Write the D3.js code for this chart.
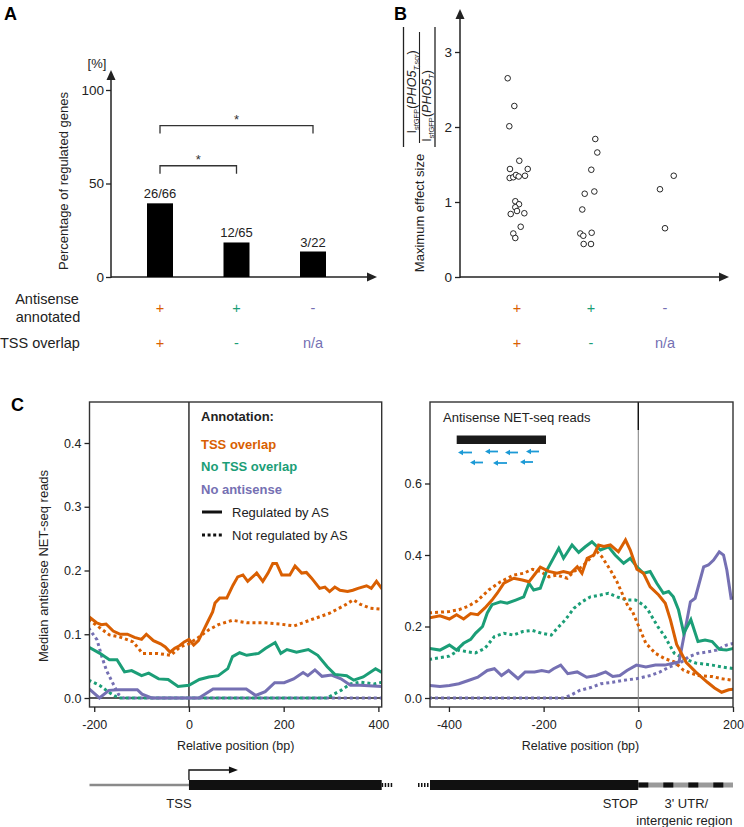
<!DOCTYPE html>
<html><head><meta charset="utf-8">
<script src="https://cdn.jsdelivr.net/npm/d3@7"></script>
<style>body{margin:0;background:#fff}svg{font-family:"Liberation Sans",Arial,sans-serif}</style>
</head><body><svg id="c" width="744" height="827"></svg>
<script>
// ---------------- DATA ----------------
const categories = ["TSS overlap", "No TSS overlap", "No antisense"];
const regulatedCounts = [26, 12, 3];
const totalCounts = [66, 65, 22];
const rowAntisense = ["+", "+", "-"];
const rowTSS = ["+", "-", "n/a"];
const comparisons = [[0, 1, 59.5], [0, 2, 81]]; // [from, to, bracket level %]
const yTicksA = [0, 50, 100];

const effectTSS = [2.65, 2.28, 2.01, 1.55, 1.44, 1.44, 1.32, 1.33, 1.36, 1.34, 1.35, 1.01, 0.97, 0.93, 0.88, 0.84, 0.85, 0.67, 0.58, 0.52];
const jitterTSS = [-0.126, -0.036, -0.104, 0.031, -0.095, 0.145, -0.099, -0.05, -0.014, 0.023, 0.108, -0.023, 0.027, -0.023, 0, -0.085, 0.099, 0.05, -0.05, -0.023];
const effectNoTSS = [1.84, 1.66, 1.43, 1.14, 1.11, 0.90, 0.58, 0.55, 0.59, 0.44, 0.44];
const jitterNoTSS = [0.058, 0.085, 0.004, 0.045, -0.085, -0.118, -0.145, -0.104, 0.009, -0.099, 0];
const effectNoAS = [1.17, 1.35, 0.65];
const jitterNoAS = [-0.068, 0.118, 0];
const yTicksB = [0, 1, 2, 3];

// Panel C, left (around TSS): [position bp, median reads]
const leftTssReg = [[-212,0.128],[-195,0.118],[-185,0.115],[-175,0.116],[-160,0.105],[-145,0.10],[-130,0.10],[-115,0.095],[-100,0.092],[-90,0.10],[-75,0.09],[-60,0.085],[-50,0.08],[-40,0.072],[-30,0.078],[-20,0.082],[-10,0.088],[0,0.092],[10,0.083],[20,0.09],[30,0.105],[40,0.12],[50,0.135],[55,0.149],[65,0.157],[80,0.157],[93,0.177],[103,0.19],[114,0.193],[124,0.183],[143,0.196],[156,0.183],[167,0.196],[177,0.211],[185,0.211],[196,0.193],[213,0.193],[224,0.207],[238,0.196],[248,0.197],[259,0.188],[276,0.172],[287,0.174],[297,0.167],[308,0.174],[319,0.169],[335,0.167],[346,0.169],[357,0.172],[375,0.176],[385,0.172],[396,0.183],[410,0.169]];
const leftTssNot = [[-212,0.123],[-188,0.11],[-168,0.099],[-147,0.096],[-118,0.088],[-98,0.07],[-68,0.07],[-38,0.067],[-19,0.08],[0,0.085],[22,0.096],[42,0.107],[62,0.115],[92,0.122],[122,0.118],[162,0.118],[192,0.116],[222,0.113],[255,0.122],[297,0.133],[330,0.146],[347,0.154],[362,0.147],[382,0.141],[410,0.139]];
const leftNoTssReg = [[-212,0.080],[-188,0.07],[-168,0.06],[-152,0.06],[-136,0.041],[-121,0.043],[-100,0.035],[-85,0.039],[-64,0.03],[-44,0.029],[-23,0.018],[0,0.02],[22,0.029],[42,0.033],[62,0.035],[82,0.046],[92,0.065],[107,0.071],[122,0.067],[147,0.07],[162,0.078],[182,0.087],[194,0.07],[207,0.076],[227,0.072],[252,0.076],[272,0.067],[292,0.049],[308,0.037],[333,0.035],[348,0.028],[368,0.033],[394,0.046],[410,0.039]];
const leftNoTssNot = [[-212,0.028],[-189,0.02],[-169,0.009],[-149,0],[291,0],[301,0.004],[321,0.012],[341,0.022],[361,0.025],[391,0.022],[410,0.025]];
const leftNoAsReg = [[-212,0.015],[-189,0],[-169,0.012],[-149,0.013],[-109,0.013],[-99,0.006],[-79,0],[21,0],[51,0.014],[121,0.014],[141,0.004],[161,0.01],[181,0.024],[201,0.024],[221,0.03],[241,0.04],[251,0.035],[266,0.044],[281,0.034],[301,0.036],[321,0.03],[341,0.02],[361,0.02],[410,0.018]];
const leftNoAsNot = [[-212,0.11],[-194,0.091],[-184,0.065],[-174,0.043],[-164,0.028],[-149,0.006],[-139,0],[410,0]];

// Panel C, right (around STOP)
const rightTssReg = [[-442,0.224],[-419,0.23],[-399,0.221],[-384,0.233],[-369,0.221],[-354,0.236],[-339,0.233],[-324,0.252],[-309,0.274],[-298,0.293],[-284,0.321],[-263,0.335],[-245,0.33],[-231,0.325],[-217,0.349],[-207,0.366],[-189,0.354],[-172,0.349],[-158,0.354],[-143,0.349],[-129,0.367],[-119,0.349],[-108,0.391],[-94,0.4],[-84,0.428],[-73,0.424],[-59,0.428],[-42,0.409],[-27,0.442],[-17,0.414],[-3,0.36],[11,0.349],[25,0.311],[43,0.288],[57,0.265],[68,0.218],[81,0.15],[101,0.1],[121,0.073],[146,0.044],[161,0.028],[176,0.016],[191,0.023],[202,0.025]];
const rightTssNot = [[-442,0.238],[-419,0.24],[-399,0.242],[-379,0.247],[-359,0.257],[-340,0.272],[-316,0.302],[-291,0.325],[-263,0.344],[-242,0.349],[-224,0.36],[-207,0.354],[-189,0.339],[-172,0.344],[-150,0.335],[-136,0.354],[-119,0.367],[-105,0.386],[-87,0.409],[-77,0.395],[-59,0.358],[-45,0.325],[-31,0.283],[-20,0.251],[-14,0.247],[1,0.2],[16,0.153],[36,0.125],[56,0.11],[76,0.101],[96,0.077],[126,0.063],[156,0.06],[176,0.054],[202,0.049]];
const rightNoTssReg = [[-442,0.139],[-419,0.134],[-399,0.148],[-384,0.134],[-369,0.153],[-354,0.164],[-344,0.181],[-329,0.2],[-319,0.238],[-309,0.261],[-291,0.269],[-277,0.265],[-259,0.274],[-242,0.283],[-231,0.321],[-221,0.302],[-207,0.307],[-193,0.358],[-168,0.419],[-158,0.391],[-140,0.428],[-126,0.407],[-112,0.423],[-98,0.437],[-80,0.414],[-63,0.423],[-49,0.4],[-31,0.377],[-17,0.391],[-3,0.367],[11,0.349],[25,0.354],[39,0.321],[53,0.293],[64,0.298],[74,0.283],[85,0.246],[96,0.181],[111,0.219],[126,0.158],[141,0.162],[156,0.158],[171,0.136],[186,0.134],[202,0.139]];
const rightNoTssNot = [[-442,0.108],[-419,0.113],[-399,0.117],[-379,0.134],[-359,0.129],[-344,0.126],[-324,0.139],[-304,0.172],[-284,0.181],[-264,0.176],[-244,0.186],[-224,0.189],[-204,0.181],[-184,0.176],[-174,0.191],[-154,0.219],[-136,0.251],[-119,0.269],[-101,0.283],[-80,0.288],[-63,0.293],[-45,0.283],[-24,0.274],[-6,0.274],[11,0.26],[21,0.245],[41,0.2],[56,0.172],[76,0.125],[96,0.11],[121,0.098],[156,0.092],[176,0.087],[202,0.082]];
const rightNoAsReg = [[-442,0.035],[-419,0.032],[-399,0.035],[-379,0.04],[-359,0.049],[-339,0.058],[-319,0.077],[-304,0.082],[-289,0.063],[-274,0.077],[-254,0.054],[-239,0.073],[-219,0.073],[-204,0.077],[-189,0.073],[-179,0.082],[-164,0.092],[-149,0.068],[-129,0.073],[-109,0.058],[-89,0.063],[-69,0.073],[-54,0.06],[-39,0.063],[-24,0.077],[-4,0.092],[16,0.087],[36,0.092],[56,0.092],[76,0.098],[86,0.101],[96,0.17],[110,0.269],[120,0.279],[138,0.367],[148,0.372],[159,0.386],[171,0.409],[180,0.4],[187,0.358],[196,0.279],[202,0.28]];
const rightNoAsNot = [[-442,0],[-159,0],[-144,0.007],[-124,0.021],[-99,0.03],[-79,0.04],[-54,0.044],[-34,0.049],[-4,0.054],[26,0.063],[46,0.073],[66,0.087],[86,0.096],[106,0.115],[126,0.125],[146,0.129],[166,0.134],[186,0.148],[202,0.153]];

const xTicksLeft = [-200, 0, 200, 400];
const yTicksLeft = [0, 0.1, 0.2, 0.3, 0.4];
const xTicksRight = [-400, -200, 0, 200];
const yTicksRight = [0, 0.2, 0.4, 0.6];

// ---------------- DRAW ----------------
const col = {"TSS overlap": "#d95f02", "No TSS overlap": "#1b9e77", "No antisense": "#7570b3"};
const svg = d3.select("#c");

function arrowUp(g, x, y) { g.append("path").attr("d", `M${x},${y} L${x-4.5},${y+10} L${x+4.5},${y+10} Z`).attr("fill", "#222"); }
function arrowRight(g, x, y) { g.append("path").attr("d", `M${x},${y} L${x-10},${y-4.5} L${x-10},${y+4.5} Z`).attr("fill", "#222"); }

svg.append("text").attr("x", 4).attr("y", 20).attr("font-size", 18).attr("font-weight", "bold").text("A");
svg.append("text").attr("x", 394).attr("y", 20).attr("font-size", 18).attr("font-weight", "bold").text("B");
svg.append("text").attr("x", 11).attr("y", 411).attr("font-size", 18).attr("font-weight", "bold").text("C");

// ---- Panel A ----
const A = svg.append("g");
const xA = d3.scalePoint().domain(categories).range([160, 313]);
const yA = d3.scaleLinear().domain([0, 100]).range([277, 90]);
const barW = 26;
A.append("line").attr("x1", 111).attr("x2", 111).attr("y1", 278).attr("y2", 76).attr("stroke", "#222").attr("stroke-width", 1.5);
arrowUp(A, 111, 70);
A.append("line").attr("x1", 111).attr("x2", 370).attr("y1", 277).attr("y2", 277).attr("stroke", "#222").attr("stroke-width", 1.5);
arrowRight(A, 377, 277);
const axA = A.append("g").attr("transform", "translate(111,0)").call(d3.axisLeft(yA).tickValues(yTicksA).tickFormat(d3.format("d")).tickSize(5).tickPadding(2));
axA.select(".domain").remove();
axA.selectAll("text").attr("font-size", 13.5).attr("font-family", "Liberation Sans, Arial, sans-serif").attr("fill", "#222");
axA.selectAll("line").attr("stroke", "#222").attr("stroke-width", 1.3);
A.append("text").attr("x", 97).attr("y", 68).attr("text-anchor", "middle").attr("font-size", 13).attr("fill", "#222").text("[%]");
A.append("text").attr("transform", "translate(68,181) rotate(-90)").attr("text-anchor", "middle").attr("font-size", 13).attr("fill", "#222").text("Percentage of regulated genes");
const pct = regulatedCounts.map((d, i) => 100 * d / totalCounts[i]);
A.selectAll(".bar").data(categories).join("rect")
  .attr("x", d => xA(d) - barW / 2).attr("width", barW)
  .attr("y", (d, i) => yA(pct[i])).attr("height", (d, i) => yA(0) - yA(pct[i])).attr("fill", "#000");
A.selectAll(".blab").data(categories).join("text")
  .attr("x", d => xA(d)).attr("y", (d, i) => yA(pct[i]) - 5).attr("text-anchor", "middle").attr("font-size", 13).attr("fill", "#222")
  .text((d, i) => `${regulatedCounts[i]}/${totalCounts[i]}`);
comparisons.forEach(([a, b, lvl]) => {
  const x1 = xA(categories[a]), x2 = xA(categories[b]), y = yA(lvl);
  A.append("path").attr("d", `M${x1},${y + 8}V${y}H${x2}V${y + 8}`).attr("fill", "none").attr("stroke", "#333").attr("stroke-width", 1.3);
  A.append("text").attr("x", (x1 + x2) / 2).attr("y", y - 2).attr("text-anchor", "middle").attr("font-size", 13).attr("fill", "#333").text("*");
});
svg.append("text").attr("x", 47).attr("y", 304).attr("text-anchor", "middle").attr("font-size", 14.5).attr("fill", "#222").text("Antisense");
svg.append("text").attr("x", 48).attr("y", 322).attr("text-anchor", "middle").attr("font-size", 14.5).attr("fill", "#222").text("annotated");
svg.append("text").attr("x", 0).attr("y", 348).attr("font-size", 14.5).attr("fill", "#222").text("TSS overlap");

// ---- Panel B ----
const B = svg.append("g");
const xB = d3.scaleLinear().domain([0, 2]).range([517, 665]);
const yB = d3.scaleLinear().domain([0, 3]).range([277, 52]);
B.append("line").attr("x1", 460).attr("x2", 460).attr("y1", 278).attr("y2", 16).attr("stroke", "#222").attr("stroke-width", 1.5);
arrowUp(B, 460, 9);
B.append("line").attr("x1", 460).attr("x2", 722).attr("y1", 277).attr("y2", 277).attr("stroke", "#222").attr("stroke-width", 1.5);
arrowRight(B, 729, 277);
const axB = B.append("g").attr("transform", "translate(460,0)").call(d3.axisLeft(yB).tickValues(yTicksB).tickFormat(d3.format("d")).tickSize(5).tickPadding(3));
axB.select(".domain").remove();
axB.selectAll("text").attr("font-size", 13.5).attr("font-family", "Liberation Sans, Arial, sans-serif").attr("fill", "#222");
axB.selectAll("line").attr("stroke", "#222").attr("stroke-width", 1.3);
const groups = [[effectTSS, jitterTSS], [effectNoTSS, jitterNoTSS], [effectNoAS, jitterNoAS]];
groups.forEach(([vals, jit], gi) => {
  B.selectAll(".p" + gi).data(vals).join("circle")
    .attr("cx", (d, i) => xB(gi + jit[i])).attr("cy", d => yB(d)).attr("r", 2.8)
    .attr("fill", "#fff").attr("stroke", "#111").attr("stroke-width", 0.9);
});
B.append("text").attr("transform", "translate(424,213) rotate(-90)").attr("text-anchor", "middle").attr("font-size", 13).attr("fill", "#222").text("Maximum effect size");
[403.5, 435].forEach(x => B.append("line").attr("x1", x).attr("x2", x).attr("y1", 27).attr("y2", 147).attr("stroke", "#222").attr("stroke-width", 1.3));
B.append("line").attr("x1", 419.5).attr("x2", 419.5).attr("y1", 32).attr("y2", 143).attr("stroke", "#222").attr("stroke-width", 1.1);
function fracText(x, y, parts) {
  const t = B.append("text").attr("transform", `translate(${x},${y}) rotate(-90)`).attr("text-anchor", "middle").attr("font-size", 12.5).attr("fill", "#222");
  parts.forEach(p => {
    const s = t.append("tspan").text(p.t);
    if (p.sub) s.attr("font-size", 7.5).attr("dy", p.dy);
    else if (p.dy) s.attr("dy", p.dy);
    if (p.it) s.attr("font-style", "italic");
  });
}
fracText(416, 92, [{t: "I"}, {t: "sfGFP", sub: true, dy: 3}, {t: "(", dy: -3}, {t: "PHO5", it: true}, {t: "T,scr", sub: true, dy: 3, it: true}, {t: ")", dy: -3}]);
fracText(430.5, 106, [{t: "I"}, {t: "sfGFP", sub: true, dy: 3}, {t: "(", dy: -3}, {t: "PHO5", it: true}, {t: "T", sub: true, dy: 3, it: true}, {t: ")", dy: -3}]);

[xA, d => xB(categories.indexOf(d))].forEach(sc => {
  categories.forEach((c, i) => {
    svg.append("text").attr("x", sc(c)).attr("y", 313).attr("text-anchor", "middle").attr("font-size", 14.5).attr("fill", col[c]).text(rowAntisense[i]);
    svg.append("text").attr("x", sc(c)).attr("y", 348).attr("text-anchor", "middle").attr("font-size", 14.5).attr("fill", col[c]).text(rowTSS[i]);
  });
});

// ---- Panel C ----
function buildPanel(cfg) {
  const g = svg.append("g");
  const x = d3.scaleLinear().domain(cfg.xDom).range([cfg.left, cfg.right]);
  const y = d3.scaleLinear().domain(cfg.yDom).range(cfg.yRange);
  g.append("clipPath").attr("id", cfg.id).append("rect").attr("x", cfg.left).attr("y", cfg.top).attr("width", cfg.right - cfg.left).attr("height", cfg.bottom - cfg.top);
  g.append("line").attr("x1", cfg.left).attr("x2", cfg.right).attr("y1", y(0)).attr("y2", y(0)).attr("stroke", "#222").attr("stroke-width", 1.3);
  if (cfg.grayV) {
    g.append("line").attr("x1", x(0)).attr("x2", x(0)).attr("y1", cfg.top).attr("y2", cfg.bottom).attr("stroke", "#888").attr("stroke-width", 1.1);
    g.append("line").attr("x1", x(0)).attr("x2", x(0)).attr("y1", cfg.top).attr("y2", cfg.top + 28).attr("stroke", "#111").attr("stroke-width", 1.4);
  } else {
    g.append("line").attr("x1", x(0)).attr("x2", x(0)).attr("y1", cfg.top).attr("y2", cfg.bottom).attr("stroke", "#111").attr("stroke-width", 1.3);
  }
  const line = d3.line().x(d => x(d[0])).y(d => y(d[1]));
  const lg = g.append("g").attr("clip-path", `url(#${cfg.id})`);
  cfg.series.forEach(s => {
    lg.append("path").attr("d", line(s.data)).attr("fill", "none").attr("stroke", col[s.cat])
      .attr("stroke-width", 3).attr("stroke-linejoin", "miter")
      .attr("stroke-dasharray", s.dashed ? "3,3" : null);
  });
  g.append("rect").attr("x", cfg.left).attr("y", cfg.top).attr("width", cfg.right - cfg.left).attr("height", cfg.bottom - cfg.top)
    .attr("fill", "none").attr("stroke", "#333").attr("stroke-width", 1.4);
  const ax = g.append("g").attr("transform", `translate(${cfg.left},0)`).call(d3.axisLeft(y).tickValues(cfg.yTicks).tickFormat(d3.format(".1f")).tickSize(5).tickPadding(3));
  const bx = g.append("g").attr("transform", `translate(0,${cfg.bottom})`).call(d3.axisBottom(x).tickValues(cfg.xTicks).tickFormat(d => String(d)).tickSize(5).tickPadding(8));
  [ax, bx].forEach(a => {
    a.select(".domain").remove();
    a.selectAll("text").attr("font-size", 12.5).attr("font-family", "Liberation Sans, Arial, sans-serif").attr("fill", "#222");
    a.selectAll("line").attr("stroke", "#222").attr("stroke-width", 1.3);
  });
  g.append("text").attr("x", (cfg.left + cfg.right) / 2 + cfg.labelShift).attr("y", 750).attr("text-anchor", "middle").attr("font-size", 12.5).attr("fill", "#222").text("Relative position (bp)");
  return {g, x, y};
}

const L = buildPanel({
  id: "clipL", left: 89.5, right: 381.7, top: 402, bottom: 707,
  xDom: [-210, 407], yDom: [0, 0.4], yRange: [698, 443], yTicks: yTicksLeft, xTicks: xTicksLeft, labelShift: 0,
  series: [
    {cat: "No antisense", dashed: true, data: leftNoAsNot},
    {cat: "No TSS overlap", dashed: true, data: leftNoTssNot},
    {cat: "No antisense", dashed: false, data: leftNoAsReg},
    {cat: "No TSS overlap", dashed: false, data: leftNoTssReg},
    {cat: "TSS overlap", dashed: true, data: leftTssNot},
    {cat: "TSS overlap", dashed: false, data: leftTssReg}
  ]
});
const R = buildPanel({
  id: "clipR", left: 430, right: 733, top: 402, bottom: 707, grayV: true,
  xDom: [-440, 200], yDom: [0, 0.6], yRange: [698, 483.5], yTicks: yTicksRight, xTicks: xTicksRight, labelShift: -1,
  series: [
    {cat: "No antisense", dashed: true, data: rightNoAsNot},
    {cat: "No TSS overlap", dashed: true, data: rightNoTssNot},
    {cat: "TSS overlap", dashed: true, data: rightTssNot},
    {cat: "No antisense", dashed: false, data: rightNoAsReg},
    {cat: "No TSS overlap", dashed: false, data: rightNoTssReg},
    {cat: "TSS overlap", dashed: false, data: rightTssReg}
  ]
});
svg.append("text").attr("transform", "translate(48,566) rotate(-90)").attr("text-anchor", "middle").attr("font-size", 13).attr("fill", "#222").text("Median antisense NET-seq reads");

const lg = svg.append("g");
lg.append("text").attr("x", 201).attr("y", 421).attr("font-size", 13).attr("font-weight", "bold").attr("fill", "#222").text("Annotation:");
categories.forEach((c, i) => {
  lg.append("text").attr("x", 201).attr("y", 449 + i * 22.3).attr("font-size", 13).attr("font-weight", "bold").attr("fill", col[c]).text(c);
});
[["Regulated by AS", null], ["Not regulated by AS", "3,2.6"]].forEach(([t, dash], i) => {
  const yy = 512 + i * 23;
  lg.append("line").attr("x1", 202).attr("x2", 222).attr("y1", yy).attr("y2", yy).attr("stroke", "#111").attr("stroke-width", 3).attr("stroke-dasharray", dash);
  lg.append("text").attr("x", 232).attr("y", yy + 4.5).attr("font-size", 13).attr("fill", "#222").text(t);
});

svg.append("text").attr("x", 443).attr("y", 421.5).attr("font-size", 13).attr("fill", "#222").text("Antisense NET-seq reads");
svg.append("rect").attr("x", 456.7).attr("y", 435.5).attr("width", 89.3).attr("height", 8.5).attr("fill", "#1a1a1a");
const readArrows = [[458, 472, 452.5], [485, 498, 451.5], [505, 518, 452.5], [526, 539, 451.5], [470, 483, 462.5], [493, 507, 463], [520, 533, 462]];
readArrows.forEach(([a, b, yy]) => {
  svg.append("line").attr("x1", a + 4).attr("x2", b).attr("y1", yy).attr("y2", yy).attr("stroke", "#1c9ad6").attr("stroke-width", 1.8);
  svg.append("path").attr("d", `M${a},${yy} L${a + 5},${yy - 2.8} L${a + 5},${yy + 2.8} Z`).attr("fill", "#1c9ad6");
});

const gd = svg.append("g");
const yGene = 785;
gd.append("line").attr("x1", L.x(-210)).attr("x2", L.x(0)).attr("y1", yGene).attr("y2", yGene).attr("stroke", "#8a8a8a").attr("stroke-width", 2.5);
gd.append("rect").attr("x", L.x(0)).attr("y", yGene - 5).attr("width", L.x(407) - L.x(0)).attr("height", 10).attr("fill", "#111");
gd.append("line").attr("x1", L.x(407)).attr("x2", L.x(407) + 12).attr("y1", yGene).attr("y2", yGene).attr("stroke", "#111").attr("stroke-width", 4).attr("stroke-dasharray", "1.5,1.5");
gd.append("path").attr("d", `M${L.x(0)},${yGene - 5} V${yGene - 15} H${L.x(0) + 42}`).attr("fill", "none").attr("stroke", "#111").attr("stroke-width", 1.3);
gd.append("path").attr("d", `M${L.x(0) + 49},${yGene - 15} L${L.x(0) + 40},${yGene - 18.5} L${L.x(0) + 40},${yGene - 11.5} Z`).attr("fill", "#111");
gd.append("text").attr("x", L.x(0) - 10).attr("y", yGene + 23).attr("text-anchor", "middle").attr("font-size", 13).attr("fill", "#222").text("TSS");

gd.append("line").attr("x1", R.x(-440) - 12).attr("x2", R.x(-440)).attr("y1", yGene).attr("y2", yGene).attr("stroke", "#111").attr("stroke-width", 4).attr("stroke-dasharray", "1.5,1.5");
gd.append("rect").attr("x", R.x(-440)).attr("y", yGene - 5).attr("width", R.x(0) - R.x(-440)).attr("height", 10).attr("fill", "#111");
gd.append("line").attr("x1", R.x(0)).attr("x2", R.x(200)).attr("y1", yGene).attr("y2", yGene).attr("stroke", "#9a9a9a").attr("stroke-width", 5);
gd.append("line").attr("x1", R.x(0)).attr("x2", R.x(200)).attr("y1", yGene).attr("y2", yGene).attr("stroke", "#111").attr("stroke-width", 5).attr("stroke-dasharray", "10,15");
gd.append("text").attr("x", R.x(0) - 18).attr("y", yGene + 23).attr("text-anchor", "middle").attr("font-size", 13).attr("fill", "#222").text("STOP");
gd.append("text").attr("x", R.x(0) + 48).attr("y", yGene + 23).attr("text-anchor", "middle").attr("font-size", 13).attr("fill", "#222").text("3' UTR/");
gd.append("text").attr("x", R.x(0) + 46).attr("y", yGene + 40).attr("text-anchor", "middle").attr("font-size", 13).attr("fill", "#222").text("intergenic region");
</script></body></html>
